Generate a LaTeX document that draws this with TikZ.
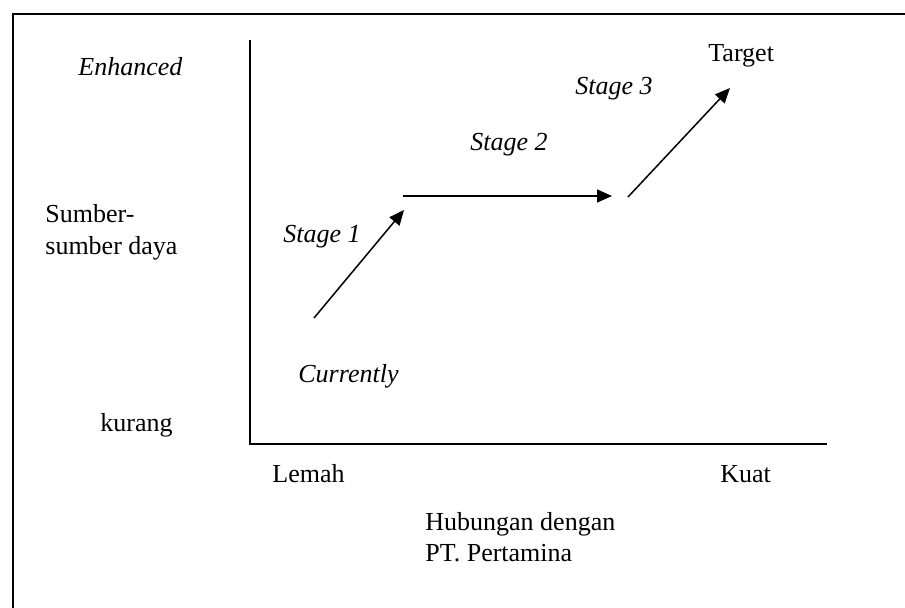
\documentclass[tikz,border=0pt]{standalone}
\usepackage{fontspec}
\setmainfont{Liberation Serif}
\usetikzlibrary{arrows.meta}

\tikzstyle{axisText}=[anchor=base west,inner sep=0pt,font=\fontsize{13}{15.6}\selectfont]
\tikzstyle{stageText}=[anchor=base west,inner sep=0pt,font=\fontsize{13}{15.6}\selectfont\itshape]
\tikzstyle{stageArrow}=[-{Triangle[length=7.5pt,width=6.5pt]},line width=0.75pt]

\begin{document}
\begin{tikzpicture}[x=0.5pt,y=-0.5pt]
        \useasboundingbox (0,0) rectangle (905,608);

        % frame
        \coordinate (f0) at (13,14);
        \coordinate (f1) at (905,14);
        \coordinate (f2) at (13,608);
        \draw [line width=1pt] (f2) -- (f0) -- (f1);

        % axes
        \coordinate (o) at (250,444);
        \coordinate (ytop) at (250,40);
        \coordinate (xend) at (827,444);
        \draw [line width=1pt] (ytop) -- (o) -- (xend);

        % vertical axis labels
        \node[stageText] (enh) at (78,76) {Enhanced};
        \node[axisText] (sd1) at (45,223) {Sumber-};
        \node[axisText] (sd2) at (45,255) {sumber daya};
        \node[axisText] (kur) at (100,432) {kurang};

        % horizontal axis labels
        \node[axisText] (lem) at (272,483) {Lemah};
        \node[axisText] (kua) at (720,483) {Kuat};
        \node[axisText] (hub1) at (425,531) {Hubungan dengan};
        \node[axisText] (hub2) at (425,562) {PT. Pertamina};

        % stages
        \node[stageText] (cur) at (298,383) {Currently};
        \node[stageText] (st1) at (283,243) {Stage 1};
        \node[stageText] (st2) at (470,151) {Stage 2};
        \node[stageText] (st3) at (575,95) {Stage 3};
        \node[axisText] (tgt) at (708,62) {Target};

        \coordinate (p0) at (314,318);
        \coordinate (p1) at (404,210);
        \coordinate (p2) at (403,196);
        \coordinate (p3) at (612,196);
        \coordinate (p4) at (628,197);
        \coordinate (p5) at (730,88);

        \draw [stageArrow] (p0) to (p1);
        \draw [stageArrow] (p2) to (p3);
        \draw [stageArrow] (p4) to (p5);
\end{tikzpicture}
\end{document}
